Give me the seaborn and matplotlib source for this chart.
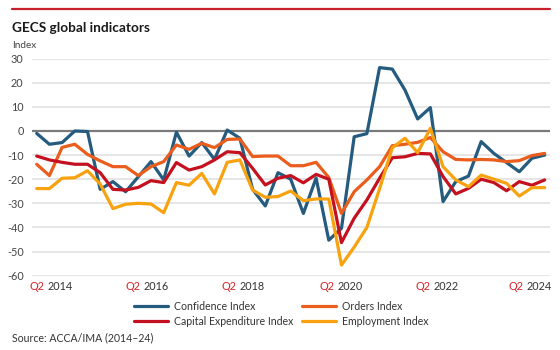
import numpy as np
import pandas as pd
import seaborn as sns
import matplotlib.pyplot as plt
from matplotlib.lines import Line2D

# quarters Q2 2014 .. Q2 2024
years = [2014, 2015, 2016, 2017, 2018, 2019, 2020, 2021, 2022, 2023, 2024]
quarters = [(y, q) for y in years for q in (1, 2, 3, 4)][1:42]
quarter_labels = ["Q{} {}".format(q, y) for y, q in quarters]

confidence = [-1.0, -5.5, -4.8, 0.0, -0.2, -24.2, -21.0, -25.2, -19.0, -12.7,
              -20.3, -0.5, -10.4, -4.8, -11.8, 0.4, -3.0, -24.2, -31.1, -17.3,
              -20.0, -34.2, -19.5, -45.3, -40.4, -2.4, -1.1, 26.3, 25.7, 17.0,
              5.0, 9.7, -29.3, -21.0, -18.7, -4.4, -9.3, -13.1, -16.9, -11.3,
              -10.0]
orders = [-13.8, -18.5, -6.8, -5.5, -9.7, -12.4, -14.8, -14.8, -18.5, -14.8,
          -12.7, -5.8, -7.6, -5.1, -6.9, -3.5, -3.3, -10.6, -10.4, -10.4,
          -14.4, -14.4, -13.0, -19.3, -34.2, -25.2, -20.3, -14.8, -6.1, -5.5,
          -4.7, -2.7, -8.6, -11.8, -12.0, -11.8, -12.0, -12.7, -12.3, -10.2,
          -9.3]
capex = [-10.4, -12.0, -13.0, -13.8, -13.8, -17.3, -24.2, -24.5, -23.4, -20.6,
         -21.4, -13.1, -16.2, -14.8, -12.0, -8.6, -9.0, -15.5, -22.4, -19.6,
         -18.5, -21.5, -18.0, -20.0, -46.3, -36.2, -28.6, -19.6, -11.1, -10.7,
         -9.3, -9.5, -18.9, -26.1, -23.8, -20.0, -21.4, -24.8, -21.0, -22.5,
         -20.3]
employment = [-23.9, -23.9, -19.6, -19.4, -16.5, -22.0, -32.2, -30.4, -30.0, -30.3,
              -33.9, -21.4, -22.5, -17.6, -26.1, -13.0, -12.0, -24.5, -27.5, -27.2,
              -24.9, -28.9, -28.2, -28.2, -55.6, -48.2, -40.0, -24.0, -7.0, -3.0,
              -9.0, 1.1, -14.8, -20.3, -23.1, -18.3, -20.0, -21.7, -27.0, -23.5,
              -23.5]

series_names = ["Confidence Index", "Orders Index",
                "Capital Expenditure Index", "Employment Index"]
colors = ["#245b7e", "#ea5d1c", "#c4111f", "#f8a20f"]
xtick_labels = ["2014", "2016", "2018", "2020", "2022", "2024"]
yticks = [30, 20, 10, 0, -10, -20, -30, -40, -50, -60]

df = pd.DataFrame({
    "x": list(range(len(quarter_labels))) * 4,
    "value": confidence + orders + capex + employment,
    "series": sum([[n] * len(quarter_labels) for n in series_names], []),
})

sns.set_style("white")
plt.rcParams["font.family"] = ["Lato", "DejaVu Sans"]

fig = plt.figure(figsize=(5.6, 3.5), dpi=100)
ax = fig.add_axes([32 / 560, 1 - 275.6 / 350, 518 / 560, (275.6 - 58.7) / 350])

for y in yticks:
    if y == 0:
        ax.axhline(y, color="#7a7a7a", lw=1.6, zorder=1)
    else:
        ax.axhline(y, color="#e4e4e4", lw=1.3, zorder=0)

sns.lineplot(data=df, x="x", y="value", hue="series", hue_order=series_names,
             palette=colors, lw=2.3, legend=False, ax=ax, zorder=3)

ax.set_xlim(-0.37, 40.42)
ax.set_ylim(-60, 30)
ax.set_yticks(yticks)
ax.set_yticklabels([str(v) for v in yticks], fontsize=7.8, color="#444444")
ax.tick_params(axis="y", length=0, pad=6)
ax.set_xticks([])
ax.set_xlabel("")
ax.set_ylabel("")
for s in ax.spines.values():
    s.set_visible(False)

# x labels: red "Q2" followed by the year
centers = [50.5, 146.5, 242.5, 340.5, 436, 529]
for c, yr in zip(centers, xtick_labels):
    xf = (c - 32) / 518
    ax.annotate("Q2", (xf, 0), xycoords="axes fraction", xytext=(-5.5, -11),
                textcoords="offset pixels", ha="right", va="center",
                fontsize=7.8, color="#d2232a")
    ax.annotate(yr, (xf, 0), xycoords="axes fraction", xytext=(-2.5, -11),
                textcoords="offset pixels", ha="left", va="center",
                fontsize=7.8, color="#333333")

# top rule, title, unit
fig.add_artist(Line2D([12 / 560, 550 / 560], [1 - 9 / 350, 1 - 9 / 350],
                      transform=fig.transFigure, color="#c8202a", lw=1.6))
fig.text(12 / 560, 1 - 28 / 350, "GECS global indicators", fontsize=9.8,
         fontweight="bold", color="#1a1a1a", va="center")
fig.text(12 / 560, 1 - 45 / 350, "Index", fontsize=7.2, color="#444444", va="center")

handles = [Line2D([], [], color=c, lw=2.3) for c in colors]
order = [0, 2, 1, 3]
fig.legend([handles[i] for i in order], [series_names[i] for i in order],
           ncol=2, loc="upper left", bbox_to_anchor=(134 / 560, 1 - 301 / 350),
           frameon=False, fontsize=7.6, handlelength=3.2, handletextpad=0.55,
           columnspacing=0.9, labelspacing=0.35, borderpad=0, borderaxespad=0,
           labelcolor="#333333")

fig.text(12 / 560, 1 - 338 / 350, "Source: ACCA/IMA (2014\u201324)", fontsize=7.6,
         color="#333333", va="center")

fig.savefig("out.png", dpi=100)
